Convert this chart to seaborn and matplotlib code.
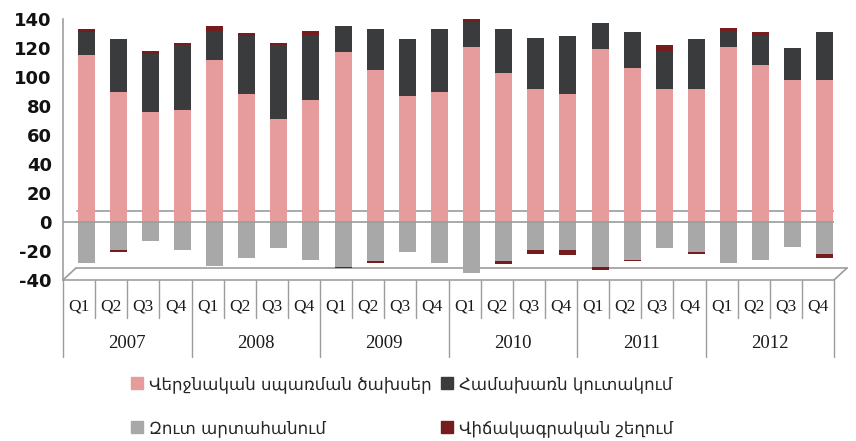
import numpy as np
import pandas as pd
import matplotlib
matplotlib.use("Agg")
import matplotlib.pyplot as plt
import matplotlib.transforms as mtransforms
from matplotlib.lines import Line2D
from matplotlib.patches import Patch
import seaborn as sns

# ---------------- data ----------------
years = ["2007", "2008", "2009", "2010", "2011", "2012"]
quarters = ["Q1", "Q2", "Q3", "Q4"]

final_consumption = [115, 90, 76, 77, 112, 88, 71, 84, 117, 105, 87, 90,
                     121, 103, 92, 88, 119, 106, 92, 92, 121, 108, 98, 98]
gross_accumulation = [16, 36, 40, 45, 20, 40, 51, 45, 18, 28, 39, 43,
                      17, 30, 35, 40, 18, 25, 26, 34, 11, 20, 22, 33]
net_exports = [-28, -19, -13, -19, -30, -25, -18, -26, -31, -27, -21, -28,
               -35, -27, -19, -19, -31, -26, -18, -21, -28, -26, -17, -22]
statistical_discrepancy = [2, -2, 2, 1.5, 3, 2, 1.5, 3, -1, -1.5, 0, 0,
                           2, -2, -3, -4, -2, -1, 4, -1, 2, 3, 0, -3]

legend_labels = ["Վերջնական սպառման ծախսեր", "Համախառն կուտակում",
                 "Զուտ արտահանում", "Վիճակագրական շեղում"]
yticks = list(range(-40, 141, 20))

colors = {"pink": "#E69C9C", "dark": "#3A3B3C", "light": "#A8A8A8", "red": "#741C1E"}

# ---------------- build frame ----------------
categories = [f"{y} {q}" for y in years for q in quarters]
df = pd.DataFrame({
    "cat": categories,
    "pink": final_consumption,
    "dark": gross_accumulation,
    "light": net_exports,
    "red": statistical_discrepancy,
})
pos_top = df["pink"] + df["dark"]
red_bottom = np.where(df["red"] >= 0, pos_top, df["light"])

sns.set_theme(style="white")
plt.rcParams["font.family"] = ["DejaVu Sans"]

fig = plt.figure(figsize=(8.56, 4.41), dpi=100)
W, H = 856, 441
ax_left, ax_right, ax_top, ax_bottom = 63, 834, 19, 280
ax = fig.add_axes([ax_left / W, 1 - ax_bottom / H,
                   (ax_right - ax_left) / W, (ax_bottom - ax_top) / H])

bw = 0.53
common = dict(data=df, x="cat", order=categories, width=bw, saturation=1,
              errorbar=None, ax=ax, linewidth=0, zorder=3)
sns.barplot(y="pink", color=colors["pink"], **common)
sns.barplot(y="dark", color=colors["dark"], bottom=df["pink"].values, **common)
sns.barplot(y="light", color=colors["light"], **common)
sns.barplot(y="red", color=colors["red"], bottom=red_bottom, **common)

# 3D-like horizontal offset of bars (depth)
shift = mtransforms.offset_copy(ax.transData, fig=fig, x=7, y=0, units="dots")
for p in ax.patches:
    p.set_transform(shift)

ax.set_ylim(-40, 140)
ax.set_xlim(-0.5, len(categories) - 0.5)
ax.set_yticks(yticks)
ax.set_yticklabels([str(t) for t in yticks])
ax.set_xticks(range(len(categories)))
ax.set_xticklabels(quarters * len(years), family="Liberation Serif", fontsize=12.5,
                   color="#1a1a1a")
ax.set_xlabel("")
ax.set_ylabel("")
ax.tick_params(axis="x", length=0, pad=13)
ax.tick_params(axis="y", length=4, width=1, color="#9a9a9a", direction="out",
               labelsize=13, labelcolor="#111111", pad=4)
for lab in ax.get_yticklabels():
    lab.set_fontweight("bold")

for s in ["top", "right"]:
    ax.spines[s].set_visible(False)
for s in ["left", "bottom"]:
    ax.spines[s].set_color("#a0a0a0")
    ax.spines[s].set_linewidth(1.2)

gcol = "#9c9c9c"
# back-wall zero line (behind bars), front zero line (over bars)
back = mtransforms.offset_copy(ax.transData, fig=fig, x=14, y=11, units="dots")
ax.plot([-0.5, 23.5], [0, 0], color=gcol, lw=1.2, transform=back, zorder=1)
ax.axhline(0, color=gcol, lw=1.2, zorder=4)
# floor
floorb = mtransforms.offset_copy(ax.transData, fig=fig, x=13, y=12, units="dots")
ax.plot([-0.5, 23.5], [-40, -40], color=gcol, lw=1.2, transform=floorb,
        zorder=1, clip_on=False)
for xe in [-0.5, 23.5]:
    p0 = ax.transData.transform((xe, -40))
    p1 = floorb.transform((xe, -40))
    fig.add_artist(Line2D([p0[0] / W, p1[0] / W], [p0[1] / H, p1[1] / H],
                          color=gcol, lw=1.2))

# category separators and year labels
btrans = mtransforms.blended_transform_factory(ax.transData, ax.transAxes)
axh = ax_bottom - ax_top
for i in range(len(categories) + 1):
    xb = i - 0.5
    ylow = -77 / axh if i % 4 == 0 else -38 / axh
    ax.add_line(Line2D([xb, xb], [0, ylow], transform=btrans, color=gcol,
                       lw=1.0, clip_on=False))
for j, yr in enumerate(years):
    ax.text(4 * j + 1.5, -63 / axh, yr, transform=btrans, ha="center", va="center",
            family="Liberation Serif", fontsize=13.5, color="#1a1a1a")

# legend
h_pink = Patch(color=colors["pink"])
h_dark = Patch(color=colors["dark"])
h_light = Patch(color=colors["light"])
h_red = Patch(color=colors["red"])
lkw = dict(loc="center left", frameon=False, fontsize=12, handlelength=0.7,
           handleheight=0.7, handletextpad=0.4, labelspacing=1.55, borderpad=0,
           borderaxespad=0)
leg1 = fig.legend([h_pink, h_light], [legend_labels[0], legend_labels[2]],
                  bbox_to_anchor=(131 / W, 1 - 406 / H), **lkw)
leg2 = fig.legend([h_dark, h_red], [legend_labels[1], legend_labels[3]],
                  bbox_to_anchor=(441 / W, 1 - 406 / H), **lkw)

fig.savefig("out.png", dpi=100)
